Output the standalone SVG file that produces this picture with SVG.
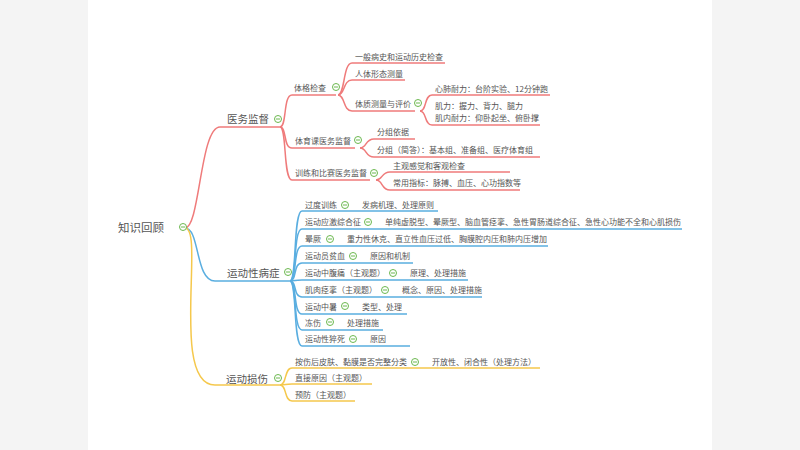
<svg xmlns="http://www.w3.org/2000/svg" width="800" height="450" viewBox="0 0 800 450">
<style>
text{font-family:"Noto Sans CJK SC","Noto Sans",sans-serif;fill:#555;font-size:8px}
.l1{font-size:10.5px}.root{font-size:11.5px}
.r{stroke:#ef7b7b;fill:none;stroke-width:1.5}
.b{stroke:#5aaee0;fill:none;stroke-width:1.5}
.y{stroke:#f5c84c;fill:none;stroke-width:1.5}
.c{fill:#fff;stroke:#6bb84e;stroke-width:1}
.cl{stroke:#6bb84e;stroke-width:1}
</style>
<defs><g id="col"><circle class="c" r="3.5"/><line class="cl" x1="-2" x2="2" y1="0" y2="0"/></g></defs>
<rect width="800" height="450" fill="#f4f4f4"/>
<rect x="88" y="0" width="624" height="450" fill="#fff"/>
<g id="connectors">
<path class="r" d="M185 228 C200 228 200 127 220 127 H280"/>
<path class="r" d="M280 127 C287 127 283 95 292 95 H336"/>
<path class="r" d="M280 127 C287 127 283 148 292 148 H355"/>
<path class="r" d="M280 127 C287 127 283 180 292 180 H370"/>
<path class="r" d="M338 95 C345 95 343 63 352 63 H445"/>
<path class="r" d="M338 95 C345 95 343 80 352 80 H405"/>
<path class="r" d="M338 95 C345 95 343 111 352 111 H415"/>
<path class="r" d="M420 111 C427 111 424 95 432 95 H550"/>
<path class="r" d="M420 111 C427 111 424 125 432 125 H540"/>
<path class="r" d="M360 148 C367 148 365 139 374 139 H415"/>
<path class="r" d="M360 148 C367 148 365 157 374 157 H540"/>
<path class="r" d="M376 180 C383 180 381 172 390 172 H510"/>
<path class="r" d="M376 180 C383 180 381 190 390 190 H520"/>
<path class="b" d="M185 228 C200 228 195 281 215 281 H290"/>
<path class="b" d="M290 281 C297 281 293 211 302 211 H438"/>
<path class="b" d="M290 281 C297 281 293 229 302 229 H682"/>
<path class="b" d="M290 281 C297 281 293 246 302 246 H548"/>
<path class="b" d="M290 281 C297 281 293 263 302 263 H413"/>
<path class="b" d="M290 281 C297 281 293 280 302 280 H468"/>
<path class="b" d="M290 281 C297 281 293 297 302 297 H482"/>
<path class="b" d="M290 281 C297 281 293 314 302 314 H407"/>
<path class="b" d="M290 281 C297 281 293 330 302 330 H383"/>
<path class="b" d="M290 281 C297 281 293 346 302 346 H410"/>
<path class="y" d="M185 228 C205 228 170 385 215 385 H280"/>
<path class="y" d="M280 385 C287 385 284 368 292 368 H540"/>
<path class="y" d="M280 385 C287 385 284 384 292 384 H372"/>
<path class="y" d="M280 385 C287 385 284 401 292 401 H355"/>
</g>
<g id="root"><text class="root" x="118" y="232">知识回顾</text><use href="#col" x="183" y="227"/></g>
<g id="n1"><text class="l1" x="227" y="123">医务监督</text><use href="#col" x="278" y="119"/></g>
<g id="n11"><text x="294" y="91">体格检查</text><use href="#col" x="336" y="87"/></g>
<g id="n111"><text x="355" y="60">一般病史和运动历史检查</text></g>
<g id="n112"><text x="355" y="77">人体形态测量</text></g>
<g id="n113"><text x="355" y="107">体质测量与评价</text><use href="#col" x="418" y="103"/></g>
<g id="n1131"><text x="435" y="92">心肺耐力：台阶实验、12分钟跑</text></g>
<g id="n1132"><text x="435" y="109">肌力：握力、背力、腿力</text><text x="435" y="121">肌内耐力：仰卧起坐、俯卧撑</text></g>
<g id="n12"><text x="295" y="144">体育课医务监督</text><use href="#col" x="358" y="140"/></g>
<g id="n121"><text x="377" y="135">分组依据</text></g>
<g id="n122"><text x="377" y="153">分组（简答）：基本组、准备组、医疗体育组</text></g>
<g id="n13"><text x="295" y="176">训练和比赛医务监督</text><use href="#col" x="374" y="173"/></g>
<g id="n131"><text x="393" y="169">主观感觉和客观检查</text></g>
<g id="n132"><text x="393" y="186">常用指标：脉搏、血压、心功指数等</text></g>
<g id="n2"><text class="l1" x="227" y="277">运动性病症</text><use href="#col" x="288" y="272"/></g>
<g id="n21"><text x="305" y="208">过度训练</text><use href="#col" x="345" y="205"/><text x="362" y="208">发病机理、处理原则</text></g>
<g id="n22"><text x="305" y="225">运动应激综合征</text><use href="#col" x="368" y="222"/><text x="385" y="225">单纯虚脱型、晕厥型、脑血管痉挛、急性胃肠道综合征、急性心功能不全和心肌损伤</text></g>
<g id="n23"><text x="305" y="242">晕厥</text><use href="#col" x="330" y="239"/><text x="347" y="242">重力性休克、直立性血压过低、胸膜腔内压和肺内压增加</text></g>
<g id="n24"><text x="305" y="259">运动员贫血</text><use href="#col" x="353" y="256"/><text x="370" y="259">原因和机制</text></g>
<g id="n25"><text x="305" y="276">运动中腹痛（主观题）</text><use href="#col" x="393" y="273"/><text x="410" y="276">原理、处理措施</text></g>
<g id="n26"><text x="305" y="293">肌肉痉挛（主观题）</text><use href="#col" x="385" y="290"/><text x="402" y="293">概念、原因、处理措施</text></g>
<g id="n27"><text x="305" y="310">运动中暑</text><use href="#col" x="345" y="306"/><text x="362" y="310">类型、处理</text></g>
<g id="n28"><text x="305" y="326">冻伤</text><use href="#col" x="330" y="322"/><text x="347" y="326">处理措施</text></g>
<g id="n29"><text x="305" y="342">运动性猝死</text><use href="#col" x="353" y="339"/><text x="370" y="342">原因</text></g>
<g id="n3"><text class="l1" x="226" y="383">运动损伤</text><use href="#col" x="278" y="378"/></g>
<g id="n31"><text x="295" y="365">按伤后皮肤、黏膜是否完整分类</text><use href="#col" x="415" y="362"/><text x="432" y="365">开放性、闭合性（处理方法）</text></g>
<g id="n32"><text x="295" y="381">直接原因（主观题）</text></g>
<g id="n33"><text x="295" y="398">预防（主观题）</text></g>
</svg>
